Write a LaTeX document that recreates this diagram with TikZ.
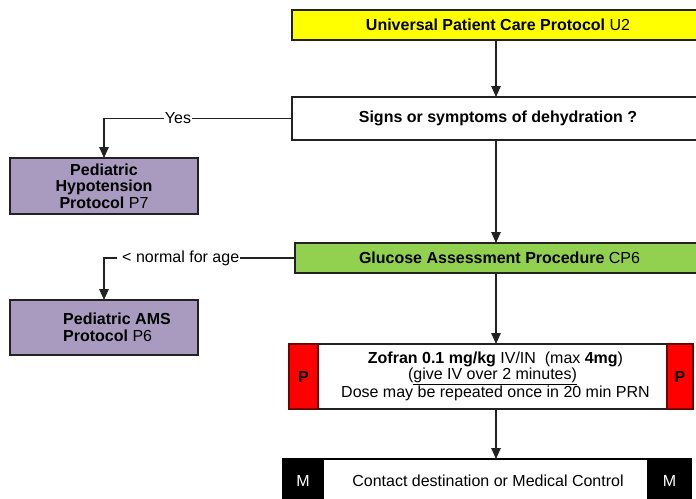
\documentclass[tikz,border=0pt]{standalone}
\usepackage{fontspec}
\setmainfont{Liberation Sans}
\usetikzlibrary{arrows.meta}
\definecolor{uyellow}{HTML}{FFFF00}
\definecolor{ugreen}{HTML}{92D050}
\definecolor{upurple}{HTML}{A99AC0}
\definecolor{ured}{HTML}{FF0000}
\definecolor{uredline}{HTML}{6E0000}
\definecolor{edgec}{HTML}{222222}
\begin{document}
\begin{tikzpicture}[x=1pt,y=-1pt,
  txt/.style={font=\fontsize{16}{16.5}\selectfont},
  box/.style={txt, draw=edgec, line width=1.3pt, inner sep=0pt, outer sep=0pt, align=center},
  pbox/.style={box, fill=ured, draw=uredline, font=\fontsize{16}{16.5}\selectfont\bfseries},
  mbox/.style={box, fill=black, draw=black, text=white},
  arr/.style={draw=edgec, line width=1.3pt, -{Triangle[width=9.5pt,length=11pt]}},
  lbl/.style={txt, fill=white, inner xsep=0.6pt, inner ysep=1pt}]
\clip (0,0) rectangle (696,498);
\fill[white] (0,0) rectangle (696,498);
\coordinate (spine) at (496,0);

% main column
\node[box, fill=uyellow, minimum width=412pt, minimum height=30pt] (u2) at (498,25)
  {\textbf{Universal Patient Care Protocol} U2};
\node[box, fill=white, minimum width=412pt, minimum height=43pt] (signs) at (498,118.5)
  {\textbf{Signs or symptoms of dehydration ?}};
\node[box, fill=ugreen, minimum width=409pt, minimum height=30pt] (gluc) at (499.5,258)
  {\textbf{Glucose Assessment Procedure} CP6};

% medication box with paramedic tabs
\node[box, fill=white, minimum width=349pt, minimum height=65pt] (zof) at (492.5,376.5)
  {\hspace{6pt}\textbf{Zofran 0.1 mg/kg} IV/IN\ \ (max \textbf{4mg})\\
   (\underline{give IV over 2 minutes)}\\
   \hspace{6pt}Dose may be repeated once in 20 min PRN};
\node[pbox, minimum width=29pt, minimum height=65pt] (pl) at (303.5,376.5) {P};
\node[pbox, minimum width=26pt, minimum height=65pt] (pr) at (680,376.5) {P};

% medical control box
\node[box, fill=white, draw=black, minimum width=325pt, minimum height=44pt] (mc) at (485.5,481)
  {\hspace{5pt}Contact destination or Medical Control};
\node[mbox, minimum width=40pt, minimum height=44pt] (ml) at (303,481) {M};
\node[mbox, minimum width=43pt, minimum height=44pt] (mr) at (669.5,481) {M};

% side protocols
\node[box, fill=upurple, minimum width=188pt, minimum height=56pt] (p7) at (104,186)
  {\textbf{Pediatric}\\\textbf{Hypotension}\\\textbf{Protocol} P7};
\node[box, fill=upurple, minimum width=188pt, minimum height=55pt] (p6) at (104,327.5) {};
\node[txt, anchor=west, align=left, inner sep=0pt] (p6label) at (63,327.5)
  {\textbf{Pediatric AMS}\\\textbf{Protocol} P6};

% connectors
\draw[arr] (u2.south -| spine) -- (signs.north -| spine);
\draw[arr] (signs.south -| spine) -- (gluc.north -| spine);
\draw[arr] (gluc.south -| spine) -- (zof.north -| spine);
\draw[arr] (zof.south -| spine) -- (mc.north -| spine);

\draw[arr] (signs.west) -| (p7.north);
\node[lbl] (yes) at (178,118) {Yes};
\draw[arr] (gluc.west) -| (p6.north);
\node[lbl, anchor=east] (low) at (240,258) {\hspace{5pt}< normal for age};
\end{tikzpicture}
\end{document}
